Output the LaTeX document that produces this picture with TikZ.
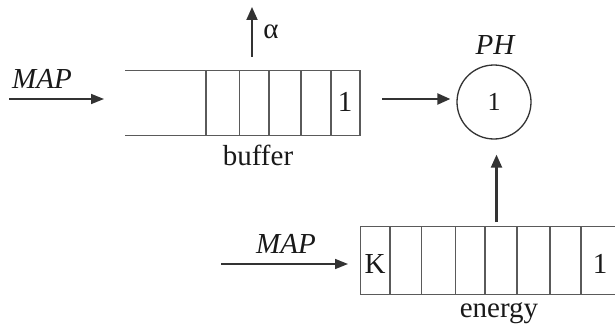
\documentclass[tikz,border=0pt]{standalone}
\usepackage{fontspec}
\setmainfont{Liberation Serif}
\usetikzlibrary{arrows.meta}
\definecolor{boxline}{HTML}{5A5A5A}
\definecolor{arrowline}{HTML}{333333}
\begin{document}
\begin{tikzpicture}[x=1pt,y=-1pt,
  cellline/.style={draw=boxline,line width=1.1pt},
  flow/.style={draw=arrowline,line width=2.2pt,-{Triangle[length=13pt,width=11pt]}},
  thinflow/.style={draw=arrowline,line width=1.6pt,-{Triangle[length=13pt,width=10pt]}},
  lbl/.style={inner sep=0pt,anchor=base,text=black!90,font=\fontsize{29}{32}\selectfont},
  phase/.style={circle,draw=arrowline,line width=1.3pt,minimum size=74pt,inner sep=0pt}]
\useasboundingbox (0,0) rectangle (615,329);
\clip (0,0) rectangle (615,329);

% buffer queue (open on the left)
\coordinate (bufTL) at (125,70.5);
\coordinate (bufBR) at (360,135.5);
\draw[cellline] (bufTL) -- (360,70.5) -- (bufBR) -- (125,135.5);
\foreach \x in {206,239.5,269,301,331}
  \draw[cellline] (\x,70.5) -- (\x,135.5);
\node[lbl] (bufone) at (345,111.5) {1};
\node[lbl] (buflbl) at (258,165) {buffer};

% phase circle
\node[phase] (ph) at (494,102) {};
\node[lbl,font=\fontsize{26}{30}\selectfont] (phone) at (494,110) {1};
\node[lbl] (phlbl) at (495,55) {\itshape PH};

% energy queue (runs off the right side)
\draw[cellline] (620,226.7) -- (360.7,226.7) -- (360.7,294.5) -- (620,294.5);
\foreach \x in {390,421.7,455.7,485,517,550,581}
  \draw[cellline] (\x,226.7) -- (\x,294.5);
\node[lbl] (ek) at (375,273.3) {K};
\node[lbl] (eone) at (600,273.3) {1};
\node[lbl] (elbl) at (499,317) {energy};

% arrivals
\coordinate (mapAs) at (9,99);
\coordinate (mapAe) at (104,99);
\draw[thinflow] (mapAs) -- (mapAe);
\node[lbl] (mapA) at (42,88) {\itshape MAP};

\coordinate (mapBs) at (221,264);
\coordinate (mapBe) at (348,264);
\draw[thinflow] (mapBs) -- (mapBe);
\node[lbl] (mapB) at (286,253.3) {\itshape MAP};

% loss rate
\coordinate (alphaS) at (252,57);
\coordinate (alphaE) at (252,7);
\draw[flow,line width=1.8pt] (alphaS) -- (alphaE);
\node[lbl] (alpha) at (271,38.3) {α};

% into the phase
\coordinate (bufout) at (382,99);
\draw[flow,shorten >=6pt] (bufout) -- (bufout -| ph.west);
\coordinate (eout) at (496.5,222);
\draw[flow,shorten >=15pt] (eout) -- (ph.south -| eout);
\end{tikzpicture}
\end{document}
